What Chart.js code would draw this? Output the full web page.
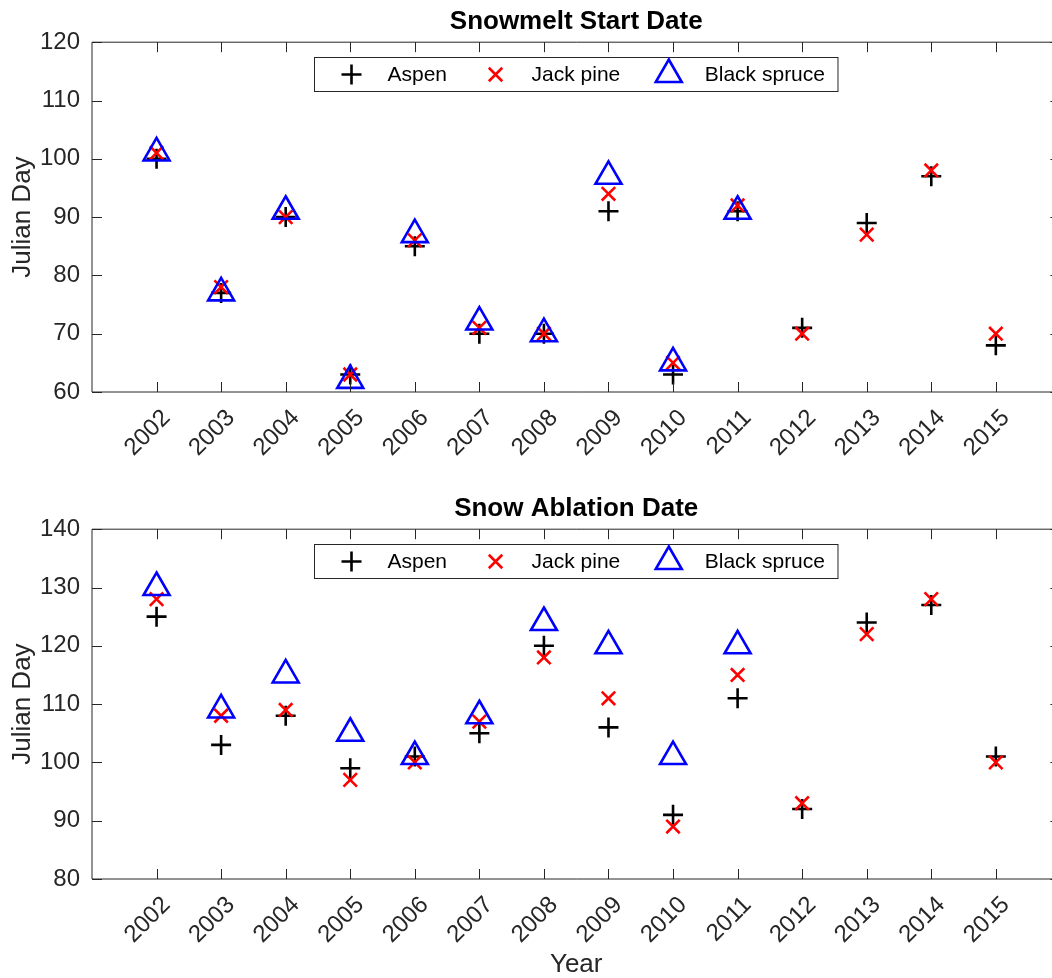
<!DOCTYPE html>
<html>
<head>
<meta charset="utf-8">
<script src="https://cdn.jsdelivr.net/npm/chart.js@4.4.1/dist/chart.umd.min.js"></script>
<style>
  html, body { margin: 0; padding: 0; background: #fff; overflow: hidden; }
  #wrap { position: relative; width: 1052px; height: 978px; overflow: hidden; }
  canvas { position: absolute; left: 0; }
  #startChart { top: 0; }
  #ablationChart { top: 487px; }
</style>
</head>
<body>
<div id="wrap">
  <canvas id="startChart" width="1062" height="487"></canvas>
  <canvas id="ablationChart" width="1062" height="491"></canvas>
</div>
<script>
// years on the x axis (also the tick labels)
const YEARS = [2002, 2003, 2004, 2005, 2006, 2007, 2008, 2009, 2010, 2011, 2012, 2013, 2014, 2015];

// snowmelt start, julian day
const startAspen  = [100, 77, 90, 63, 85, 70, 70, 91, 63, 91, 71, 89, 97, 68];
const startJack   = [101, 78, 90, 63, 86, 71, 70, 94, 65, 92, 70, 87, 98, 70];
const startSpruce = [101, 77, 91, 62, 87, 72, 70, 97, 65, 91, null, null, null, null];

// snow ablation, julian day
const ablAspen  = [125, 103, 108, 99, 101, 105, 120, 106, 91, 111, 92, 124, 127, 101];
const ablJack   = [128, 108, 109, 97, 100, 107, 118, 111, 89, 115, 93, 122, 128, 100];
const ablSpruce = [130, 109, 115, 105, 101, 108, 124, 120, 101, 120, null, null, null, null];

const START_TICKS = [60, 70, 80, 90, 100, 110, 120];
const ABL_TICKS   = [80, 90, 100, 110, 120, 130, 140];

const FONT = '"Liberation Sans", Arial, Helvetica, sans-serif';
const TEXT = '#262626';
const AXIS = '#262626';
const TICK_LEN = 10;
const PLOT_RIGHT = 1060;   // right edge of the axes box (just past the window)

// box around the plot with inward ticks on all four sides
const axesBox = {
  id: 'axesBox',
  afterDatasetsDraw(chart) {
    const { ctx, chartArea: a, scales: { x, y } } = chart;
    ctx.save();
    ctx.strokeStyle = AXIS;
    ctx.lineWidth = 1;
    ctx.beginPath();
    ctx.rect(a.left, a.top, a.right - a.left, a.bottom - a.top);
    ctx.stroke();
    ctx.beginPath();
    x.ticks.forEach(t => {
      const px = Math.round(x.getPixelForValue(t.value)) + 0.5;
      ctx.moveTo(px, a.bottom); ctx.lineTo(px, a.bottom - TICK_LEN);
      ctx.moveTo(px, a.top);    ctx.lineTo(px, a.top + TICK_LEN);
    });
    y.ticks.forEach(t => {
      const py = Math.round(y.getPixelForValue(t.value)) + 0.5;
      ctx.moveTo(a.left, py);  ctx.lineTo(a.left + TICK_LEN, py);
      ctx.moveTo(a.right, py); ctx.lineTo(a.right - TICK_LEN, py);
    });
    ctx.stroke();
    ctx.restore();
  }
};

// legend box sitting inside the top of the plot
const insideLegend = {
  id: 'insideLegend',
  afterDraw(chart) {
    const { ctx, chartArea: a } = chart;
    const sets = chart.data.datasets;
    ctx.save();
    ctx.font = '21px ' + FONT;
    const widths = sets.map(d => ctx.measureText(d.label).width);
    const lead = 37, gap = 36, between = 48.5, tail = 13;
    const boxW = lead + widths.reduce((s, w) => s + gap + w, 0) + between * (sets.length - 1) + tail;
    const left = Math.round((a.left + a.right) / 2 - boxW / 2) + 0.5;
    const top = Math.round(a.top + 15) + 0.5;
    const h = 34;
    ctx.fillStyle = '#fff';
    ctx.fillRect(left, top, boxW, h);
    ctx.strokeStyle = AXIS;
    ctx.lineWidth = 1;
    ctx.strokeRect(left, top, boxW, h);

    const cy = top + h / 2;
    let cx = left + lead;
    sets.forEach((d, i) => {
      ctx.strokeStyle = d.borderColor;
      ctx.fillStyle = 'rgba(0,0,0,0)';
      ctx.lineWidth = d.borderWidth;
      Chart.helpers.drawPoint(ctx, { pointStyle: d.pointStyle, radius: d.pointRadius, borderWidth: d.borderWidth, rotation: 0 }, cx, cy);
      ctx.fillStyle = '#000';
      ctx.textAlign = 'left';
      ctx.textBaseline = 'middle';
      ctx.fillText(d.label, cx + gap, cy + 1);
      cx += gap + widths[i] + between;
    });
    ctx.restore();
  }
};

function points(vals) {
  return YEARS.map((yr, i) => ({ x: yr, y: vals[i] })).filter(p => p.y !== null);
}

function makeSets(aspen, jack, spruce) {
  return [
    { label: 'Aspen', data: points(aspen), pointStyle: 'cross', pointRadius: 10,
      borderColor: '#000000', backgroundColor: 'rgba(0,0,0,0)', borderWidth: 2.6, order: 3 },
    { label: 'Jack pine', data: points(jack), pointStyle: 'crossRot', pointRadius: 9.5,
      borderColor: '#ff0000', backgroundColor: 'rgba(0,0,0,0)', borderWidth: 2.6, order: 2 },
    { label: 'Black spruce', data: points(spruce), pointStyle: 'triangle', pointRadius: 15,
      borderColor: '#0000ff', backgroundColor: 'rgba(0,0,0,0)', borderWidth: 2.6, order: 1 }
  ];
}

function panelConfig(titleText, sets, yTicks, xHeight, showYear) {
  return {
    type: 'scatter',
    data: { datasets: sets },
    options: {
      responsive: false,
      animation: false,
      events: [],
      layout: { padding: { left: 0, right: 2, top: 0, bottom: 0 } },
      scales: {
        x: {
          type: 'linear',
          min: 2001,
          max: 2016,
          afterBuildTicks: s => { s.ticks = YEARS.map(v => ({ value: v })); },
          afterFit: s => { s.height = xHeight; },
          // invisible tick marks only reserve the gap under the axis
          grid: { display: true, drawOnChartArea: false, drawTicks: true, tickLength: 12, color: 'rgba(0,0,0,0)' },
          border: { display: false },
          ticks: {
            autoSkip: false,
            minRotation: 45,
            maxRotation: 45,
            labelOffset: 10,
            padding: 0,
            color: TEXT,
            font: { family: FONT, size: 24 },
            callback: v => String(v)
          },
          title: {
            display: showYear,
            text: 'Year',
            color: TEXT,
            font: { family: FONT, size: 26, lineHeight: 1 },
            padding: { top: 0, bottom: 0 }
          }
        },
        y: {
          min: yTicks[0],
          max: yTicks[yTicks.length - 1],
          afterBuildTicks: s => { s.ticks = yTicks.map(v => ({ value: v })); },
          afterFit: s => { s.width = 92; },
          grid: { display: false, drawTicks: false, tickLength: 0 },
          border: { display: false },
          ticks: {
            padding: 12,
            color: TEXT,
            font: { family: FONT, size: 24 }
          },
          title: {
            display: true,
            text: 'Julian Day',
            color: TEXT,
            font: { family: FONT, size: 26, lineHeight: 1.2 },
            padding: { top: 7, bottom: 0 }
          }
        }
      },
      plugins: {
        legend: { display: false },
        tooltip: { enabled: false },
        title: {
          display: true,
          text: titleText,
          fullSize: false,
          color: '#000',
          font: { family: FONT, size: 26, weight: 'bold', lineHeight: 1.2 },
          padding: { top: 6, bottom: 5 }
        }
      }
    },
    plugins: [axesBox, insideLegend]
  };
}

// chart.js keeps some room right of the rotated year labels, so widen the
// canvas (it runs past the window) until the plot box ends at PLOT_RIGHT
function drawPanel(id, ...args) {
  const canvas = document.getElementById(id);
  let chart = new Chart(canvas, panelConfig(...args));
  for (let i = 0; i < 4; i++) {
    const diff = Math.round(PLOT_RIGHT - chart.chartArea.right);
    if (diff === 0) break;
    chart.destroy();
    canvas.width = canvas.width + diff;
    chart = new Chart(canvas, panelConfig(...args));
  }
  return chart;
}

drawPanel('startChart', 'Snowmelt Start Date', makeSets(startAspen, startJack, startSpruce), START_TICKS, 95, false);
drawPanel('ablationChart', 'Snow Ablation Date', makeSets(ablAspen, ablJack, ablSpruce), ABL_TICKS, 99, true);
</script>
</body>
</html>
